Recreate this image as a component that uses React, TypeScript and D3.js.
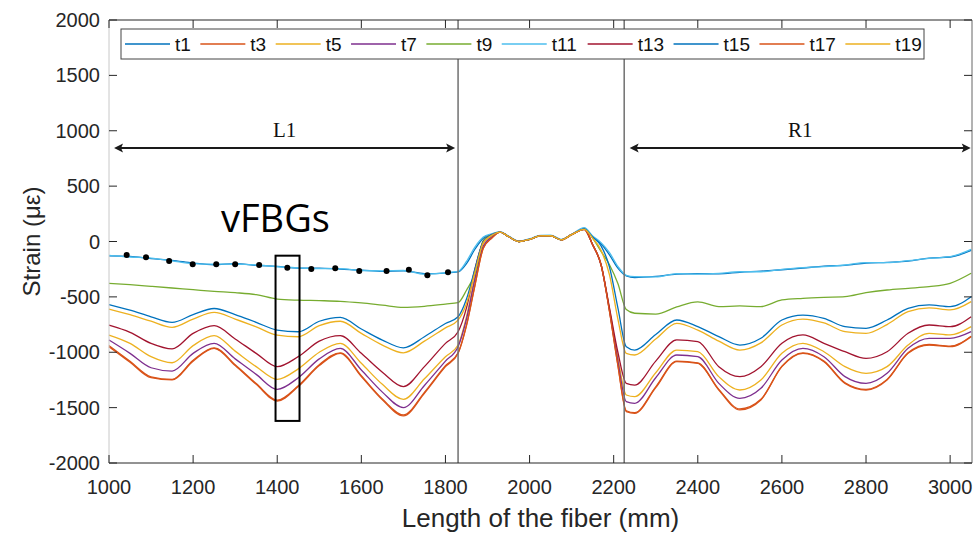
import React from "react";
import * as d3 from "d3";

// Shared fiber positions (mm)
const fiberX = [
  1000, 1050, 1100, 1150, 1200, 1250, 1300, 1350, 1400, 1450, 1500, 1550, 1600, 1650, 1700, 1750, 1800, 1830,
  1850, 1870, 1890, 1910, 1930, 1950, 1975, 2000, 2025, 2050, 2075, 2100, 2130, 2150, 2170, 2190, 2210, 2230,
  2250, 2300, 2350, 2400, 2450, 2500, 2550, 2600, 2650, 2700, 2750, 2800, 2850, 2900, 2950, 3000, 3050,
];

const t1 = [
  -130, -135, -155, -170, -195, -210, -200, -215, -225, -240, -240, -250, -258, -270, -265, -290, -285, -275,
  -200, -70, 30, 65, 85, 45, 0, 20, 50, 52, 15, 62, 118, 40, -20, -120, -240, -310,
  -325, -315, -295, -290, -292, -278, -268, -255, -240, -222, -215, -195, -188, -178, -150, -140, -80,
];
const t3 = [
  -940, -1082, -1222, -1245, -1072, -960, -1112, -1282, -1432, -1302, -1112, -1005, -1212, -1422, -1566, -1362, -1122, -1005,
  -755, -395, -58, 31, 85, 45, 0, 20, 50, 52, 15, 62, 110, -30, -210, -628, -1115, -1528,
  -1546, -1312, -1080, -1095, -1335, -1512, -1425, -1125, -1005, -1080, -1275, -1335, -1245, -1005, -930, -945, -855,
];
const t5 = [
  -845, -920, -1040, -1095, -940, -850, -990, -1130, -1245, -1150, -1000, -920, -1100, -1290, -1425, -1240, -1040, -935,
  -680, -320, -20, 50, 85, 45, 0, 20, 50, 52, 15, 62, 110, -30, -210, -610, -1050, -1386,
  -1401, -1185, -980, -995, -1220, -1341, -1251, -1010, -919, -995, -1130, -1190, -1130, -935, -829, -844, -769,
];
const t7 = [
  -890, -1010, -1140, -1170, -1010, -920, -1060, -1200, -1335, -1230, -1060, -965, -1160, -1360, -1500, -1300, -1080, -950,
  -700, -340, -40, 40, 85, 45, 0, 20, 50, 52, 15, 62, 110, -30, -210, -620, -1080, -1446,
  -1461, -1230, -1025, -1040, -1281, -1416, -1326, -1070, -965, -1040, -1220, -1281, -1190, -965, -874, -874, -814,
];
const t9 = [
  -378, -390, -405, -420, -435, -450, -462, -480, -520, -530, -534, -540, -555, -575, -595, -585, -565, -552,
  -440, -290, 10, 65, 85, 45, 0, 20, 50, 52, 15, 62, 112, 30, -90, -210, -380, -615,
  -648, -655, -590, -545, -588, -582, -588, -528, -513, -504, -498, -462, -438, -423, -408, -378, -287,
];
const t11 = [
  -125, -140, -150, -175, -200, -205, -205, -212, -228, -238, -245, -245, -262, -265, -262, -295, -282, -270,
  -180, -50, 40, 70, 88, 50, 5, 25, 55, 58, 20, 65, 125, 50, -10, -100, -225, -305,
  -318, -320, -290, -294, -288, -273, -273, -252, -236, -227, -212, -191, -191, -173, -152, -137, -71,
];
const t13 = [
  -755, -820, -920, -970, -830, -760, -880, -1010, -1130, -1040, -900, -850, -1010, -1180, -1310, -1130, -920, -815,
  -600, -250, 0, 60, 85, 45, 0, 20, 50, 52, 15, 62, 110, -30, -210, -600, -1000, -1281,
  -1296, -1080, -889, -904, -1130, -1220, -1130, -919, -844, -919, -995, -1055, -995, -829, -754, -769, -679,
];
const t15 = [
  -570, -620, -680, -730, -660, -605, -660, -730, -800, -815, -720, -685, -790, -890, -960, -860, -740, -680,
  -520, -250, 0, 60, 85, 45, 0, 20, 50, 52, 15, 62, 112, 40, -40, -230, -600, -950,
  -980, -840, -709, -769, -859, -935, -874, -709, -664, -694, -769, -784, -709, -603, -573, -588, -498,
];
const t17 = [
  -950, -1090, -1230, -1250, -1080, -965, -1120, -1290, -1440, -1310, -1120, -1010, -1220, -1430, -1575, -1370, -1130, -1010,
  -760, -400, -60, 30, 85, 45, 0, 20, 50, 52, 15, 62, 110, -30, -210, -630, -1120, -1536,
  -1552, -1320, -1085, -1100, -1341, -1521, -1431, -1130, -1010, -1085, -1281, -1341, -1251, -1010, -935, -950, -859,
];
const t19 = [
  -610, -660, -720, -775, -700, -640, -700, -770, -845, -860, -760, -720, -830, -935, -1005, -900, -780, -710,
  -560, -280, -10, 55, 85, 45, 0, 20, 50, 52, 15, 62, 110, 30, -80, -300, -700, -1010,
  -1025, -880, -739, -800, -900, -980, -915, -754, -700, -735, -814, -830, -750, -633, -600, -618, -543,
];

const seriesNames = ["t1", "t3", "t5", "t7", "t9", "t11", "t13", "t15", "t17", "t19"];
const seriesValues = [t1, t3, t5, t7, t9, t11, t13, t15, t17, t19];
const seriesColors = ["#0072BD", "#D95319", "#EDB120", "#7E2F8E", "#77AC30", "#4DBEEE", "#A2142F", "#0072BD", "#D95319", "#EDB120"];

// vFBG sensor points (black dots)
const dotX = [1042, 1088, 1143, 1199, 1255, 1300, 1357, 1424, 1481, 1538, 1595, 1660, 1713, 1757, 1806];
const dotY = [-122, -143, -176, -206, -206, -206, -212, -237, -248, -242, -266, -266, -255, -305, -278];

const xTicks = [1000, 1200, 1400, 1600, 1800, 2000, 2200, 2400, 2600, 2800, 3000];
const yTicks = [-2000, -1500, -1000, -500, 0, 500, 1000, 1500, 2000];

const boundaries = [1830, 2225];
const L1Range = [1012, 1823];
const R1Range = [2238, 3049];
const arrowLevel = 844;
const boxX = [1396, 1453];
const boxY = [-128, -1620];

const W = 974;
const H = 534;
const left = 109, right = 972, top = 20, bottom = 463;
const FONT = "'Liberation Sans', Arial, sans-serif";
const AX = "#262626";

export default function App() {
  const xs = d3.scaleLinear().domain([1000, 3052]).range([left, right]);
  const ys = d3.scaleLinear().domain([-2000, 2000]).range([bottom, top]);
  const line = d3
    .line<[number, number]>()
    .x((d) => xs(d[0]))
    .y((d) => ys(d[1]))
    .curve(d3.curveMonotoneX);

  const legFs = 19;
  let lx = 125;
  const legendItems = seriesNames.map((n, i) => {
    const tw = legFs * (0.278 + 0.556 * (n.length - 1));
    const item = { n, x: lx, c: seriesColors[i] };
    lx += 45 + 5 + tw + 9.5;
    return item;
  });

  const arrow = (x0: number, x1: number, y: number, key: string) => {
    const px0 = xs(x0), px1 = xs(x1), py = ys(y);
    return (
      <g key={key}>
        <line x1={px0 + 6} x2={px1 - 6} y1={py} y2={py} stroke="#1a1a1a" strokeWidth={2} />
        <path d={`M${px0},${py} L${px0 + 9},${py - 4.5} L${px0 + 7},${py} L${px0 + 9},${py + 4.5} Z`} fill="#1a1a1a" />
        <path d={`M${px1},${py} L${px1 - 9},${py - 4.5} L${px1 - 7},${py} L${px1 - 9},${py + 4.5} Z`} fill="#1a1a1a" />
      </g>
    );
  };

  return (
    <svg width={W} height={H} style={{ position: "absolute", left: 0, top: 0, background: "#fff" }} fontFamily={FONT}>
      <rect x={0} y={0} width={W} height={H} fill="#fff" />
      {/* curves */}
      <g>
        {seriesValues.map((vals, i) => (
          <path
            key={seriesNames[i]}
            d={line(fiberX.map((x, j) => [x, vals[j]] as [number, number])) || ""}
            fill="none"
            stroke={seriesColors[i]}
            strokeWidth={1.3}
          />
        ))}
      </g>
      {/* boundary lines */}
      {boundaries.map((b) => (
        <line key={b} x1={xs(b)} x2={xs(b)} y1={top} y2={bottom} stroke="#707070" strokeWidth={1.5} />
      ))}
      {/* vFBG dots */}
      {dotX.map((x, i) => (
        <circle key={i} cx={xs(x)} cy={ys(dotY[i])} r={3} fill="#000" />
      ))}
      {/* vFBG box */}
      <rect
        x={xs(boxX[0])}
        y={ys(boxY[0])}
        width={xs(boxX[1]) - xs(boxX[0])}
        height={ys(boxY[1]) - ys(boxY[0])}
        fill="none"
        stroke="#000"
        strokeWidth={2}
      />
      <text x={221} y={232} fontFamily="'Open Sans', sans-serif" fontSize={38} fill="#000">
        vFBGs
      </text>
      {/* L1 / R1 arrows */}
      {arrow(L1Range[0], L1Range[1], arrowLevel, "L1")}
      {arrow(R1Range[0], R1Range[1], arrowLevel, "R1")}
      <text x={xs((L1Range[0] + L1Range[1]) / 2)} y={137} textAnchor="middle" fontFamily="'Liberation Serif', 'Times New Roman', serif" fontSize={21} fill="#111">
        L1
      </text>
      <text x={xs((R1Range[0] + R1Range[1]) / 2)} y={137} textAnchor="middle" fontFamily="'Liberation Serif', 'Times New Roman', serif" fontSize={21} fill="#111">
        R1
      </text>
      {/* axes box */}
      <line x1={left} x2={right} y1={top} y2={top} stroke={AX} strokeWidth={1} />
      <line x1={left} x2={right} y1={bottom} y2={bottom} stroke={AX} strokeWidth={1} />
      <line x1={left} x2={left} y1={top} y2={bottom} stroke="#c8c8c8" strokeWidth={1} />
      <line x1={right} x2={right} y1={top} y2={bottom} stroke="#666" strokeWidth={1} />
      {xTicks.map((t) => (
        <g key={"x" + t}>
          <line x1={xs(t)} x2={xs(t)} y1={bottom} y2={bottom - 8} stroke={AX} />
          <line x1={xs(t)} x2={xs(t)} y1={top} y2={top + 8} stroke={AX} />
          <text x={xs(t)} y={494} textAnchor="middle" fontSize={20} fill={AX}>
            {t}
          </text>
        </g>
      ))}
      {yTicks.map((t) => (
        <g key={"y" + t}>
          <line x1={left} x2={left + 8} y1={ys(t)} y2={ys(t)} stroke={AX} />
          <line x1={right} x2={right - 8} y1={ys(t)} y2={ys(t)} stroke={AX} />
          <text x={100} y={ys(t) + 7} textAnchor="end" fontSize={20} fill={AX}>
            {t}
          </text>
        </g>
      ))}
      <text x={(left + right) / 2} y={527} textAnchor="middle" fontSize={26} fill={AX}>
        Length of the fiber (mm)
      </text>
      <text transform={`translate(40,${(top + bottom) / 2}) rotate(-90)`} textAnchor="middle" fontSize={24} fill={AX}>
        Strain (με)
      </text>
      {/* legend */}
      <rect x={121} y={29} width={803} height={30} fill="#fff" stroke="#444" strokeWidth={1} />
      {legendItems.map((it) => (
        <g key={it.n}>
          <line x1={it.x} x2={it.x + 45} y1={44} y2={44} stroke={it.c} strokeWidth={1.5} />
          <text x={it.x + 50} y={51} fontSize={legFs} fill="#111">
            {it.n}
          </text>
        </g>
      ))}
    </svg>
  );
}
